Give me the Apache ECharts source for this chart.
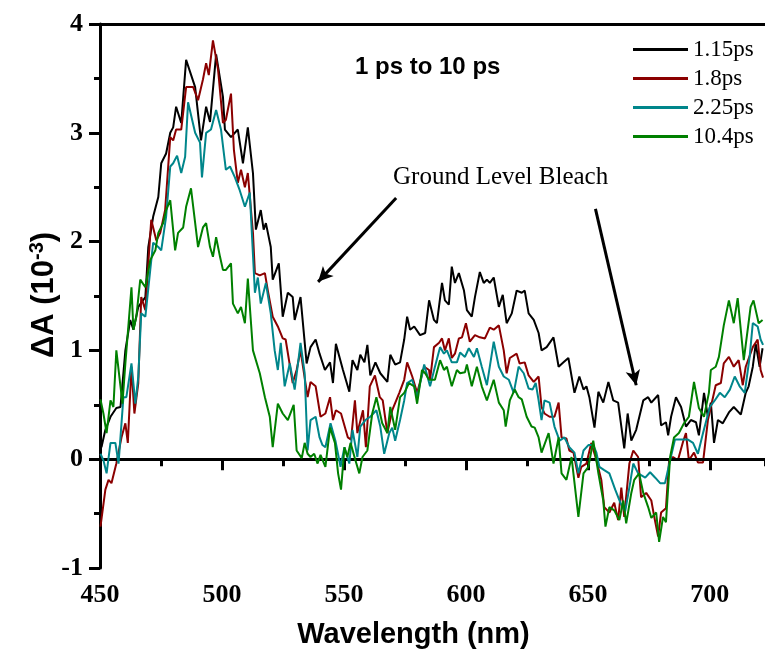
<!DOCTYPE html>
<html>
<head>
<meta charset="utf-8">
<script src="https://cdn.jsdelivr.net/npm/echarts@6/dist/echarts.min.js"></script>
<style>html,body{margin:0;padding:0;background:#fff;}#c{width:765px;height:656px;}</style>
</head>
<body>
<div id="c"></div>
<script>
// ---- Data (wavelength in nm, ΔA in 10^-3) ----
const seriesNames = ['1.15ps', '1.8ps', '2.25ps', '10.4ps'];

const wl115 = [450.6,452.2,454.3,456.7,458.4,460.4,462.4,463.7,465.7,468.6,469.8,471.8,473.9,475.1,477.1,478.8,480,481.2,483.3,485.3,489,491.4,493.5,495.1,497.6,500.4,501.2,503.7,506.5,508.6,510.6,512.7,513.9,515.9,517.1,518,520,520.8,523.3,524.9,527,529,529.8,532.2,534.7,536.3,538.4,540,542.2,544.3,545.5,546.7,549.6,552.2,553.5,555.5,556.7,558.4,559.6,560.8,562.9,564.9,567.8,569,571,573,574.7,575.9,577.1,578.8,581.2,583.3,584.9,586.9,588.1,590.2,591.4,593,594.2,595.5,597.1,599.2,600.4,602.4,603.7,605.7,607.3,608.6,609.8,611.4,613.5,615.1,616.7,618.8,620.8,622.9,624.1,625.7,627.8,629.8,631,633.1,635.9,638,640,642,644.5,646.5,648.2,649.4,650.6,652.7,654.3,656.3,658.4,660.4,662.4,664.9,666.3,667.8,669.8,672.7,674.7,676,678.8,680,682,682.9,684.1,686.1,688.2,690.2,692.2,694.3,695.5,697.6,699.2,700.4,701.7,703.3,705.3,707.8,709.8,712.7,714.7,715.9,717.6,718.8,720.4,721.6];
const dA115 = [0.11,0.27,0.39,0.47,0.48,1.0,1.28,1.19,1.40,1.49,1.95,2.23,2.41,2.72,2.81,3.0,3.05,3.24,3.09,3.67,3.42,2.93,3.24,3.1,3.72,3.33,3.03,2.96,3.03,2.72,3.05,2.63,2.11,2.29,2.11,2.17,1.95,1.65,1.80,1.31,1.53,1.49,1.28,1.49,0.88,1.03,1.10,0.97,0.82,0.89,0.70,1.06,0.82,0.62,0.91,0.82,0.96,0.89,1.05,0.77,0.89,0.79,0.71,0.96,0.87,0.89,1.10,1.31,1.19,1.22,1.14,1.16,1.46,1.28,1.25,1.62,1.46,1.42,1.77,1.62,1.71,1.55,1.37,1.31,1.49,1.72,1.62,1.65,1.62,1.67,1.40,1.51,1.25,1.34,1.55,1.53,1.55,1.34,1.28,1.16,1.0,1.03,1.12,0.85,0.89,0.93,0.61,0.76,0.64,0.67,0.57,0.29,0.62,0.52,0.71,0.54,0.52,0.10,0.42,0.17,0.27,0.54,0.57,0.52,0.59,0.31,0.34,0.22,0.39,0.57,0.48,0.30,0.36,0.34,0.22,0.61,0.39,0.52,0.15,0.36,0.33,0.43,0.48,0.41,0.61,0.67,0.85,1.06,0.85,1.02];

const wl18 = [450.2,452.2,453.5,454.7,456.7,458.8,460.4,461.4,462.9,464.1,465.7,466.9,468.6,469.8,471,473.1,474.7,476.7,478.8,480,481.2,483.3,485.3,488.2,490.2,492.2,493.5,494.6,496.3,498.4,500.4,501.6,503.7,504.9,506.5,507.8,509.4,510.6,512.7,513.5,515.5,517.6,518.8,520.8,522.9,524.9,526.1,529,530.6,532.2,535.1,536.3,538.4,540.4,542.4,544.3,545.5,546.7,548.8,551.6,552.9,554.5,555.5,557.8,559,560.6,562.7,564.7,565.9,567.8,569.8,572.7,574.7,575.9,578,580,582.9,584.9,585.3,586.9,589,590.2,591.4,593,594.2,595.5,597.1,598.4,600,601.6,603.7,605.7,607.8,609.8,611.4,613.5,615.5,616.7,618,620.8,622,624.1,625.7,627.8,629.8,631,632.2,634.3,636.3,638,639.2,641.2,642.4,644.1,646.1,647.3,649.4,651.4,653.5,655.5,656.7,658.8,660.8,662.4,663.7,664.9,667,668.6,670.6,671.8,673.9,676,677.2,678.8,680,682,683.3,684.9,686.9,689,690.2,691.4,693.5,695.1,697.2,699.2,700.4,702.4,704.5,705.7,707.8,709.8,711.8,713.5,714.7,717.6,719.6,720.8,721.8];
const dA18 = [-0.62,-0.28,-0.19,-0.22,-0.04,0.20,0.33,0.15,0.85,0.42,0.70,1.49,1.37,1.80,2.20,2.01,2.08,2.29,2.96,2.93,3.03,3.03,3.42,3.42,3.30,3.49,3.64,3.53,3.85,3.58,3.09,3.12,3.36,2.84,2.54,2.66,2.50,2.63,2.08,1.71,1.69,1.71,1.55,1.31,1.22,1.11,1.10,0.70,0.82,1.0,0.57,0.71,0.67,0.39,0.42,0.57,0.36,0.45,0.42,0.20,0.18,0.54,0.24,0.45,0.11,0.67,0.77,0.57,0.54,0.24,0.45,0.61,0.73,0.89,0.76,0.61,0.85,0.82,0.73,1.03,1.07,1.11,1.0,1.11,0.93,0.97,1.11,1.12,1.25,1.08,1.14,1.12,1.11,1.21,1.19,1.23,1.0,0.79,0.93,0.97,0.88,0.89,0.77,0.71,0.76,0.48,0.42,0.39,0.39,0.52,0.20,0.19,0.08,0.06,-0.17,-0.07,-0.04,0.15,-0.01,-0.19,-0.44,-0.49,-0.40,-0.56,-0.26,-0.53,-0.04,0.08,0.02,-0.35,-0.31,-0.38,-0.53,-0.71,-0.49,-0.45,-0.01,0.02,-0.01,0.16,0.24,-0.01,0.06,-0.03,-0.03,0.36,0.48,0.68,0.70,0.88,0.94,0.85,0.91,0.68,0.85,1.03,1.10,0.82,0.75];

const wl225 = [450.2,451.4,452.7,454.3,456.3,457.6,459.6,460.8,462.9,464.5,465.7,466.9,468.6,470.6,471.8,473.9,475.1,477.1,478.8,480,481.6,483.3,484.9,486.1,489,491,491.8,493.5,495.5,497.6,499.6,501.6,503.3,505.3,507.3,509.4,511.4,513.5,514.7,515.9,518,520,521.6,522.9,524.1,525.7,527.8,529.8,531,532.2,533.9,535.1,536.3,538.4,540,541.2,542.4,544.5,546.5,548.6,550.2,552.2,553.5,555.5,556.7,558.8,560.8,563.3,564.9,566.5,568.6,569.8,571,573,574.7,575.9,578,580,582.9,585.3,587.3,589.4,591,592.2,594.2,596.3,597.6,599.6,601.2,603.3,604.5,606.5,608.6,611.4,613.5,615.5,617.6,619.6,621.6,623.7,625.7,627.3,628.6,629.8,631,632.2,634.3,636.3,638.4,640.4,642.4,644.5,646.1,648.2,650.2,652.2,653.5,654.7,656.7,658.8,661.2,663.3,665.3,667.3,668.6,670.6,673.5,675.5,677.6,679.6,681.6,683.7,685.7,688.2,691,693.1,695.1,697.2,700,702,704.1,706.1,708.2,710.2,712.2,714.3,716.3,717.6,719.6,720.8,721.8];
const dA225 = [0.05,-0.01,-0.13,0.15,0.15,-0.04,0.57,0.57,0.88,0.51,0.76,1.34,1.31,1.74,1.99,1.95,1.92,2.23,2.69,2.72,2.79,2.63,2.78,3.28,3.0,2.91,2.59,3.0,3.03,3.21,3.03,2.66,2.69,2.59,2.47,2.32,2.45,1.53,1.67,1.43,1.62,1.34,1.0,0.82,1.07,0.67,0.88,0.64,0.85,1.07,0.79,0.08,0.36,0.39,0.2,0.13,0.11,0.33,0.17,-0.07,0.11,-0.04,0.27,0.02,0.30,0.36,0.39,0.45,0.30,0.05,0.24,0.29,0.17,0.36,0.54,0.70,0.73,0.57,0.87,0.67,0.85,1.03,0.97,1.0,0.89,0.89,0.98,0.94,1.02,0.94,1.02,0.85,0.68,1.08,0.85,0.76,0.73,0.61,0.85,0.79,0.65,0.64,0.70,0.54,0.36,0.54,0.52,0.30,0.17,0.20,0.11,0.06,-0.13,0.08,0.13,0.13,0.06,-0.07,-0.10,-0.13,-0.28,-0.40,-0.48,-0.22,-0.04,-0.13,-0.17,-0.12,-0.17,-0.22,-0.22,-0.01,0.18,0.18,0.18,0.15,0.05,0.24,0.48,0.54,0.61,0.57,0.64,0.76,0.67,0.61,0.94,1.25,1.22,1.10,1.05];

const wl104 = [450.2,451.4,452.7,454.3,455.5,456.7,458.4,459.2,460.4,462.9,463.7,464.9,466.5,468.6,470.6,472.7,473.9,475.9,477.1,478.8,480.8,482,484.1,485.3,487.3,490.2,492.2,493.5,495.1,496.3,497.6,499.2,500.4,501.6,503.7,504.5,506.5,507.8,509.4,510.6,512.7,515.5,517.6,519.6,520.8,522.9,524.9,527,529.4,530.6,532.7,533.9,535.1,536.3,537.8,539.2,540.4,542.4,544.3,546.3,547.6,548.8,550.2,551.4,552.7,554.7,556.3,557.6,559.6,561.6,563.3,565.7,567.8,569,571,573,574.7,576.7,578.8,580,582,583.3,584.9,586.1,587.3,589.4,591,592.2,594.2,596.3,597.6,599.6,600.4,602.4,604.5,606.5,608.6,611.4,613.5,615.5,616.3,618,620,621.6,622.9,624.9,626.9,628.2,629.8,631,633.9,635.9,638,639.2,641.2,643.3,646.1,648.2,650.2,652.2,654.3,656.3,657.2,658.8,660.8,662.9,664.5,665.7,667.8,669,671,672.7,674.7,676,678,679.2,680.8,682,683.7,685.3,687.3,689.4,691.4,693.5,695.5,697.6,699.6,700.4,702.4,703.7,705.7,707.8,709.8,711.4,713.9,716.7,717.9,720,721.6];
const dA104 = [0.55,0.42,0.24,0.54,0.48,1.0,0.67,0.51,0.88,1.58,1.19,1.31,1.65,1.58,1.83,1.92,2.08,2.17,2.29,2.38,1.92,2.08,2.13,2.32,2.49,1.95,2.13,2.17,1.95,1.86,2.04,1.86,1.74,1.74,1.80,1.43,1.34,1.40,1.25,1.66,1.0,0.79,0.57,0.39,0.11,0.51,0.42,0.36,0.50,0.08,0.01,0.15,0.05,0.02,0.05,-0.04,0.04,-0.07,0.29,0.15,-0.13,-0.28,0.11,0.02,0.15,-0.01,-0.13,0.02,0.08,0.42,0.57,0.33,0.24,0.48,0.27,0.57,0.61,0.70,0.67,0.51,0.82,0.79,0.73,0.73,0.73,0.91,0.82,0.85,0.67,0.82,0.79,0.80,0.87,0.67,0.85,0.67,0.54,0.73,0.52,0.45,0.30,0.54,0.64,0.57,0.55,0.39,0.30,0.29,0.20,0.06,0.24,-0.04,0.20,-0.13,-0.19,0.02,-0.53,-0.13,-0.07,0.17,-0.13,-0.38,-0.62,-0.44,-0.47,-0.56,-0.38,-0.59,-0.31,-0.19,-0.13,-0.31,-0.44,-0.54,-0.49,-0.76,-0.53,-0.58,0.02,0.20,0.24,0.33,0.39,0.71,0.47,0.39,0.61,0.82,0.85,0.94,1.23,1.46,1.25,1.48,0.91,1.40,1.46,1.25,1.28];

const seriesColors = ['#000000', '#8b0000', '#00868b', '#008000'];
const xTicks = { min: 450, max: 722.6, major: 50, minor: 25 };
const yTicks = { min: -1, max: 4, major: 1 };
const arrow1 = [[571.4, 2.40], [539.4, 1.63]];
const arrow2 = [[653.1, 2.30], [669.8, 0.68]];

function zip(xs, ys) { return xs.map((x, i) => [x, ys[i]]); }
const allData = [zip(wl115, dA115), zip(wl18, dA18), zip(wl225, dA225), zip(wl104, dA104)];

const serif = 'Liberation Serif, Times New Roman, serif';
const sans = 'Liberation Sans, Arial, sans-serif';
const gridPos = { left: 100, right: -3, top: 24, bottom: 88 };

const chart = echarts.init(document.getElementById('c'), null, { renderer: 'canvas' });

const series = allData.map((d, i) => ({
  name: seriesNames[i], type: 'line', data: d, showSymbol: false, symbol: 'none',
  xAxisIndex: 0, yAxisIndex: 0,
  lineStyle: { color: seriesColors[i], width: 2 }, itemStyle: { color: seriesColors[i] },
  z: 3 + i, animation: false, silent: true
}));

// zero line
series[0].markLine = {
  silent: true, symbol: ['none', 'none'], animation: false,
  label: { show: false },
  lineStyle: { color: '#000', width: 3, type: 'solid' },
  data: [{ yAxis: 0 }]
};
// arrows
series.push({
  type: 'line', data: [], xAxisIndex: 0, yAxisIndex: 0, silent: true, animation: false,
  markLine: {
    silent: true, animation: false, symbol: ['none', 'arrow'], symbolSize: [11, 15],
    label: { show: false },
    lineStyle: { color: '#000', width: 3, type: 'solid' },
    itemStyle: { color: '#000' },
    data: [
      [{ coord: arrow1[0] }, { coord: arrow1[1] }],
      [{ coord: arrow2[0] }, { coord: arrow2[1] }]
    ]
  }
});

const option = {
  backgroundColor: '#fff',
  animation: false,
  grid: [Object.assign({}, gridPos), Object.assign({}, gridPos)],
  legend: {
    data: seriesNames, orient: 'vertical', left: 628, top: 33,
    icon: 'rect', itemWidth: 55, itemHeight: 3, itemGap: 6,
    textStyle: { fontFamily: serif, fontSize: 23, color: '#000' },
    selectedMode: false
  },
  xAxis: [
    {
      gridIndex: 0, type: 'value', min: xTicks.min, max: xTicks.max, interval: xTicks.major, position: 'bottom',
      axisLine: { show: true, lineStyle: { color: '#000', width: 3 } },
      axisTick: { show: true, inside: false, length: 11, lineStyle: { color: '#000', width: 3 } },
      axisLabel: { show: true, margin: 14, showMaxLabel: false, fontFamily: serif, fontWeight: 'bold', fontSize: 26, color: '#000' },
      splitLine: { show: false },
      name: 'Wavelength (nm)', nameLocation: 'middle', nameGap: 52,
      nameTextStyle: { fontFamily: sans, fontWeight: 'bold', fontSize: 29, color: '#000', padding: [0, 38, 0, 0] }
    },
    {
      gridIndex: 0, type: 'value', min: xTicks.min, max: xTicks.max, position: 'top',
      axisLine: { show: true, lineStyle: { color: '#000', width: 3 } },
      axisTick: { show: false }, axisLabel: { show: false }, splitLine: { show: false }
    },
    {
      gridIndex: 1, type: 'value', min: xTicks.min, max: xTicks.max, interval: xTicks.minor, position: 'bottom',
      axisLine: { show: false },
      axisTick: { show: true, inside: false, length: 7, lineStyle: { color: '#000', width: 3 } },
      axisLabel: { show: false }, splitLine: { show: false }
    }
  ],
  yAxis: [
    {
      gridIndex: 0, type: 'value', min: yTicks.min, max: yTicks.max, interval: yTicks.major,
      axisLine: { show: true, lineStyle: { color: '#000', width: 3 } },
      axisTick: { show: true, inside: false, length: 11, lineStyle: { color: '#000', width: 3 } },
      minorTick: { show: true, splitNumber: 2, length: 6, lineStyle: { color: '#000', width: 3 } },
      axisLabel: { show: true, margin: 17, fontFamily: serif, fontWeight: 'bold', fontSize: 26, color: '#000' },
      splitLine: { show: false }
    },
    {
      gridIndex: 1, type: 'value', min: yTicks.min, max: yTicks.max, show: false
    }
  ],
  graphic: [
    { type: 'text', left: 355, top: 55, style: { text: '1 ps to 10 ps', fontFamily: sans, fontWeight: 'bold', fontSize: 24, fill: '#000' } },
    { type: 'text', left: 393, top: 165, style: { text: 'Ground Level Bleach', fontFamily: serif, fontSize: 25, fill: '#000' } },
    {
      type: 'text', x: 44, y: 295, rotation: Math.PI / 2,
      style: {
        text: 'ΔA (10{sup|-3})', align: 'center', verticalAlign: 'middle',
        fontFamily: sans, fontWeight: 'bold', fontSize: 31, fill: '#000',
        rich: { sup: { fontFamily: sans, fontWeight: 'bold', fontSize: 20, fill: '#000', verticalAlign: 'top', padding: [0, 0, 14, 0] } }
      }
    }
  ],
  series: series
};
chart.setOption(option);
</script>
</body>
</html>
